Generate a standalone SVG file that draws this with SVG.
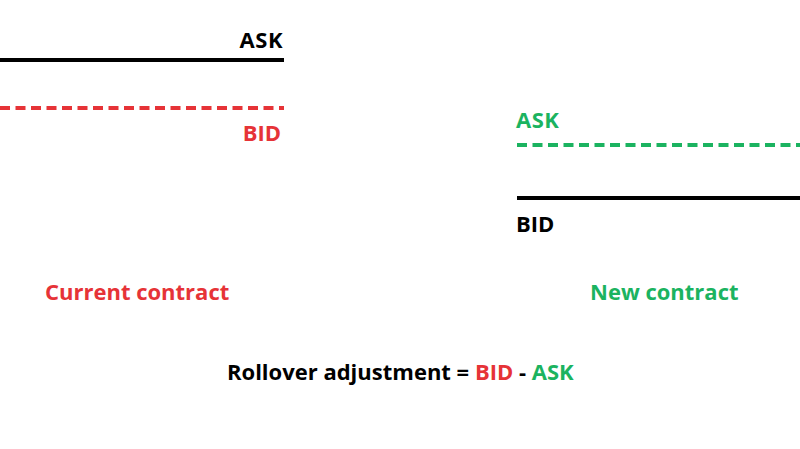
<svg xmlns="http://www.w3.org/2000/svg" width="800" height="449" viewBox="0 0 800 449">
<style>
text{font-family:"Open Sans","Liberation Sans",sans-serif;font-weight:700;font-size:22px}
.red{fill:#e63337}.green{fill:#1bb360}.blk{fill:#000}
.solid{stroke:#000;stroke-width:4;fill:none}
.dash{stroke-width:4;stroke-dasharray:10 5.5;fill:none}
</style>
<rect width="800" height="449" fill="#fff"/>
<g id="connectors">
<line class="solid" x1="0" y1="60" x2="284" y2="60"/>
<line class="dash" stroke="#e63337" x1="0" y1="108" x2="284" y2="108"/>
<line class="dash" stroke="#1bb360" x1="517" y1="145" x2="800" y2="145"/>
<line class="solid" x1="517" y1="198" x2="800" y2="198"/>
</g>
<g id="current-ask"><text class="blk" x="283" y="48" text-anchor="end" letter-spacing="0.5">ASK</text></g>
<g id="current-bid"><text class="red" x="281" y="141" text-anchor="end">BID</text></g>
<g id="new-ask"><text class="green" x="516" y="128" letter-spacing="0.5">ASK</text></g>
<g id="new-bid"><text class="blk" x="516" y="232">BID</text></g>
<g id="current-label"><text class="red" x="45" y="300">Current contract</text></g>
<g id="new-label"><text class="green" x="590" y="300">New contract</text></g>
<g id="formula"><text class="blk" x="227" y="380">Rollover adjustment = <tspan class="red">BID</tspan> - <tspan class="green">ASK</tspan></text></g>
</svg>
